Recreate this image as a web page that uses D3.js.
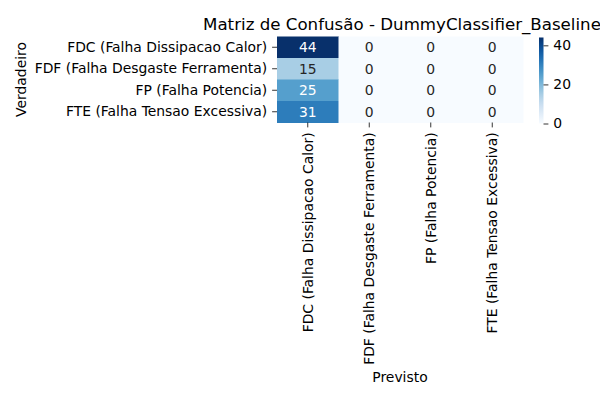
<!DOCTYPE html>
<html>
<head>
<meta charset="utf-8">
<script src="https://cdn.jsdelivr.net/npm/d3@7"></script>
<style>
  body { margin: 0; background: #fff; }
  svg { display: block; font-family: "DejaVu Sans", sans-serif; }
</style>
</head>
<body>
<svg id="chart" width="600" height="400"></svg>
<script>
const trueLabels = ["FDC (Falha Dissipacao Calor)", "FDF (Falha Desgaste Ferramenta)", "FP (Falha Potencia)", "FTE (Falha Tensao Excessiva)"];
const predLabels = ["FDC (Falha Dissipacao Calor)", "FDF (Falha Desgaste Ferramenta)", "FP (Falha Potencia)", "FTE (Falha Tensao Excessiva)"];
const rowFDC = [44, 0, 0, 0];
const rowFDF = [15, 0, 0, 0];
const rowFP  = [25, 0, 0, 0];
const rowFTE = [31, 0, 0, 0];
const colorbarTicks = [0, 20, 40];
const titleText = "Matriz de Confusão - DummyClassifier_Baseline";
const xLabelText = "Previsto";
const yLabelText = "Verdadeiro";

(function () {
const matrix = [rowFDC, rowFDF, rowFP, rowFTE];
const cells = [];
matrix.forEach((row, i) => row.forEach((v, j) => cells.push({ r: trueLabels[i], c: predLabels[j], v })));

const svg = d3.select("#chart");
const pLeft = 277, pRight = 523, pTop = 36.5, pBottom = 122.5;
const fs = 13.9;

const x = d3.scaleBand().domain(predLabels).range([pLeft, pRight]);
const y = d3.scaleBand().domain(trueLabels).range([pTop, pBottom]);
const vmax = d3.max(cells, d => d.v), vmin = d3.min(cells, d => d.v);
const color = d3.scaleSequential(d3.interpolateBlues).domain([vmin, vmax]);

svg.append("g").selectAll("rect").data(cells).join("rect")
  .attr("x", d => x(d.c)).attr("y", d => y(d.r))
  .attr("width", x.bandwidth() + 0.5).attr("height", y.bandwidth() + 0.5)
  .attr("fill", d => color(d.v));

function lum(c) {
  const rgb = d3.rgb(c);
  const f = v => { v /= 255; return v <= 0.03928 ? v / 12.92 : Math.pow((v + 0.055) / 1.055, 2.4); };
  return 0.2126 * f(rgb.r) + 0.7152 * f(rgb.g) + 0.0722 * f(rgb.b);
}

svg.append("g").selectAll("text").data(cells).join("text")
  .attr("x", d => x(d.c) + x.bandwidth() / 2)
  .attr("y", d => y(d.r) + y.bandwidth() / 2)
  .attr("text-anchor", "middle").attr("dominant-baseline", "central")
  .attr("font-size", fs)
  .attr("fill", d => lum(color(d.v)) > 0.408 ? "#262626" : "#ffffff")
  .text(d => d.v);

// axes
const xAxis = svg.append("g").attr("transform", `translate(0,${pBottom})`)
  .call(d3.axisBottom(x).tickSize(4.9).tickPadding(4.9));
xAxis.select(".domain").remove();
xAxis.selectAll(".tick line").attr("stroke", "#000").attr("stroke-width", 0.8);
xAxis.selectAll(".tick text")
  .attr("font-size", fs).attr("fill", "#000").attr("font-family", "DejaVu Sans")
  .attr("transform", "rotate(-90)")
  .attr("text-anchor", "end").attr("x", -9.8).attr("y", 0).attr("dy", "0.35em");

const yAxis = svg.append("g").attr("transform", `translate(${pLeft},0)`)
  .call(d3.axisLeft(y).tickSize(4.9).tickPadding(4.9));
yAxis.select(".domain").remove();
yAxis.selectAll(".tick line").attr("stroke", "#000").attr("stroke-width", 0.8);
yAxis.selectAll(".tick text").attr("font-size", fs).attr("fill", "#000").attr("font-family", "DejaVu Sans");

// colorbar
const cbLeft = 539, cbWidth = 4.5, cbTop = 37.5, cbBottom = 123.5;
const cbScale = d3.scaleLinear().domain([vmin, vmax]).range([cbBottom, cbTop]);
const defs = svg.append("defs");
const grad = defs.append("linearGradient").attr("id", "cbgrad")
  .attr("x1", 0).attr("y1", 1).attr("x2", 0).attr("y2", 0);
d3.range(0, 1.0001, 0.05).forEach(t => {
  grad.append("stop").attr("offset", t).attr("stop-color", color(vmin + t * (vmax - vmin)));
});
svg.append("rect").attr("x", cbLeft).attr("y", cbTop).attr("width", cbWidth)
  .attr("height", cbBottom - cbTop).attr("fill", "url(#cbgrad)");
const cbAxis = svg.append("g").attr("transform", `translate(${cbLeft + cbWidth},0)`)
  .call(d3.axisRight(cbScale).tickValues(colorbarTicks).tickSize(4.9).tickPadding(4.9));
cbAxis.select(".domain").remove();
cbAxis.selectAll(".tick line").attr("stroke", "#000").attr("stroke-width", 0.8);
cbAxis.selectAll(".tick text").attr("font-size", fs).attr("fill", "#000").attr("font-family", "DejaVu Sans");

// title and labels
svg.append("text").attr("x", (pLeft + pRight) / 2 + 2).attr("y", 30)
  .attr("text-anchor", "middle").attr("font-size", 16.67).attr("fill", "#000")
  .text(titleText);
svg.append("text").attr("x", (pLeft + pRight) / 2).attr("y", 382)
  .attr("text-anchor", "middle").attr("font-size", fs).attr("fill", "#000")
  .text(xLabelText);
svg.append("text").attr("transform", `translate(26,${(pTop + pBottom) / 2}) rotate(-90)`)
  .attr("text-anchor", "middle").attr("font-size", fs).attr("fill", "#000")
  .text(yLabelText);
})();
</script>
</body>
</html>
